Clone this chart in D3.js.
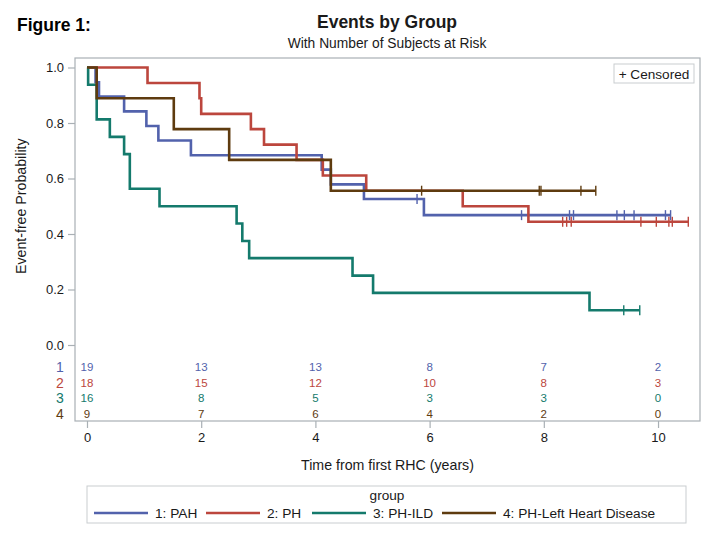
<!DOCTYPE html>
<html>
<head>
<meta charset="utf-8">
<script src="https://cdn.jsdelivr.net/npm/d3@7"></script>
<style>
  html, body { margin: 0; padding: 0; background: #fff; }
  svg text { font-family: "Liberation Sans", Arial, Helvetica, sans-serif; }
</style>
</head>
<body>
<svg id="chart" width="720" height="543"></svg>
<script>
// ---- data ----
const groupNames = ["1: PAH", "2: PH", "3: PH-ILD", "4: PH-Left Heart Disease"];
const groupIds = ["1", "2", "3", "4"];
const groupColors = ["#5262AC", "#BC463D", "#147A6C", "#5E3B0F"];

// step change times (years) and survival after each step
const pahTimes = [0, 0.15, 0.21, 0.65, 1.04, 1.25, 1.82, 4.11, 4.27, 4.85, 5.90, 10.22];
const pahSurv  = [1.0, 0.947, 0.895, 0.842, 0.789, 0.737, 0.684, 0.632, 0.579, 0.526, 0.468, 0.468];
const pahCens  = [5.78, 7.61, 8.45, 8.52, 9.28, 9.41, 9.58, 10.13, 10.22];

const phTimes = [0, 1.06, 1.97, 2.00, 2.87, 3.10, 3.67, 4.13, 4.89, 6.58, 7.73, 10.53];
const phSurv  = [1.0, 0.944, 0.889, 0.833, 0.778, 0.722, 0.667, 0.611, 0.556, 0.500, 0.444, 0.444];
const phCens  = [8.33, 8.40, 8.48, 9.70, 9.97, 10.19, 10.25, 10.53];

const ildTimes = [0, 0.02, 0.17, 0.40, 0.65, 0.75, 1.27, 2.62, 2.72, 2.84, 4.65, 5.01, 8.80, 9.68];
const ildSurv  = [1.0, 0.938, 0.813, 0.750, 0.688, 0.563, 0.500, 0.438, 0.375, 0.313, 0.250, 0.188, 0.125, 0.125];
const ildCens  = [9.40, 9.68];

const lhdTimes = [0, 0.17, 1.52, 2.49, 4.27, 8.91];
const lhdSurv  = [1.0, 0.889, 0.778, 0.667, 0.556, 0.556];
const lhdCens  = [5.86, 7.92, 7.95, 8.65, 8.91];

// number at risk
const atRiskTimes = [0, 2, 4, 6, 8, 10];
const pahRisk = [19, 13, 13, 8, 7, 2];
const phRisk  = [18, 15, 12, 10, 8, 3];
const ildRisk = [16, 8, 5, 3, 3, 0];
const lhdRisk = [9, 7, 6, 4, 2, 0];

const xTicks = [0, 2, 4, 6, 8, 10];
const yTicks = [0, 0.2, 0.4, 0.6, 0.8, 1.0];

// ---- assemble ----
const groups = [
  {times: pahTimes, surv: pahSurv, cens: pahCens, risk: pahRisk},
  {times: phTimes,  surv: phSurv,  cens: phCens,  risk: phRisk},
  {times: ildTimes, surv: ildSurv, cens: ildCens, risk: ildRisk},
  {times: lhdTimes, surv: lhdSurv, cens: lhdCens, risk: lhdRisk}
].map((g, i) => Object.assign(g, {name: groupNames[i], id: groupIds[i], color: groupColors[i]}));

const svg = d3.select("#chart");
const frame = {left: 75, right: 700, top: 58, bottom: 421};
const axisColor = "#A9B0B5";
const textColor = "#1a1a1a";
const FF = "Liberation Sans, Arial, sans-serif";

const x = d3.scaleLinear().domain([-0.21, 10.735]).range([frame.left, frame.right]);
const y = d3.scaleLinear().domain([0, 1]).range([345, 67.5]);

// titles
svg.append("text").attr("x", 17).attr("y", 31).attr("font-size", 17.5).attr("font-weight", "bold")
  .attr("fill", "#000").text("Figure 1:");
svg.append("text").attr("x", 387).attr("y", 28).attr("text-anchor", "middle").attr("font-size", 17.5)
  .attr("font-weight", "bold").attr("fill", textColor).text("Events by Group");
svg.append("text").attr("x", 387).attr("y", 47.5).attr("text-anchor", "middle").attr("font-size", 13.8)
  .attr("fill", textColor).text("With Number of Subjects at Risk");

// frame
svg.append("rect").attr("x", frame.left).attr("y", frame.top)
  .attr("width", frame.right - frame.left).attr("height", frame.bottom - frame.top)
  .attr("fill", "none").attr("stroke", axisColor).attr("stroke-width", 1.2);

// y axis
const yAxis = svg.append("g").attr("transform", `translate(${frame.left},0)`)
  .call(d3.axisLeft(y).tickValues(yTicks).tickFormat(d3.format(".1f")).tickSize(7).tickPadding(4));
yAxis.select(".domain").remove();
yAxis.selectAll(".tick line").attr("stroke", axisColor).attr("stroke-width", 1.2);
yAxis.selectAll(".tick text").attr("font-size", 13).attr("fill", textColor).attr("font-family", FF);

// x axis
const xAxis = svg.append("g").attr("transform", `translate(0,${frame.bottom})`)
  .call(d3.axisBottom(x).tickValues(xTicks).tickFormat(d3.format("d")).tickSize(7).tickPadding(5));
xAxis.select(".domain").remove();
xAxis.selectAll(".tick line").attr("stroke", axisColor).attr("stroke-width", 1.2);
xAxis.selectAll(".tick text").attr("font-size", 13).attr("fill", textColor).attr("font-family", FF);

// axis labels
svg.append("text").attr("x", (frame.left + frame.right) / 2).attr("y", 470).attr("text-anchor", "middle")
  .attr("font-size", 14.2).attr("fill", textColor).text("Time from first RHC (years)");
svg.append("text").attr("transform", `translate(26,${y(0.5)}) rotate(-90)`).attr("text-anchor", "middle")
  .attr("font-size", 14.2).attr("fill", textColor).text("Event-free Probability");

// curves
const line = d3.line().x(d => x(d[0])).y(d => y(d[1])).curve(d3.curveStepAfter);
function survAt(g, t) {
  let s = g.surv[0];
  for (let i = 0; i < g.times.length; i++) if (g.times[i] <= t) s = g.surv[i];
  return s;
}
const curves = svg.append("g");
groups.forEach(g => {
  const pts = g.times.map((t, i) => [t, g.surv[i]]);
  curves.append("path").datum(pts).attr("d", line).attr("fill", "none")
    .attr("stroke", g.color).attr("stroke-width", 2.6).attr("stroke-linejoin", "miter");
  curves.selectAll(null).data(g.cens).enter().append("line")
    .attr("x1", d => x(d)).attr("x2", d => x(d))
    .attr("y1", d => y(survAt(g, d)) - 5).attr("y2", d => y(survAt(g, d)) + 5)
    .attr("stroke", g.color).attr("stroke-width", 1.4);
});

// censored legend
svg.append("rect").attr("x", 614).attr("y", 64).attr("width", 80).attr("height", 19)
  .attr("fill", "#fff").attr("stroke", "#C9CDD0").attr("stroke-width", 1);
svg.append("text").attr("x", 654).attr("y", 78.5).attr("text-anchor", "middle").attr("font-size", 13.6)
  .attr("fill", textColor).text("+ Censored");

// at-risk table
const rowY = [367, 382.5, 398, 413.5];
groups.forEach((g, i) => {
  svg.append("text").attr("x", 60).attr("y", rowY[i] + 5).attr("text-anchor", "middle")
    .attr("font-size", 14).attr("fill", g.color).text(g.id);
  svg.selectAll(null).data(atRiskTimes).enter().append("text")
    .attr("x", d => x(d)).attr("y", rowY[i] + 4).attr("text-anchor", "middle")
    .attr("font-size", 11.5).attr("fill", g.color)
    .text((d, j) => g.risk[j]);
});

// bottom legend
svg.append("rect").attr("x", 87).attr("y", 486).attr("width", 599).attr("height", 37)
  .attr("fill", "#fff").attr("stroke", "#C9CDD0").attr("stroke-width", 1);
svg.append("text").attr("x", 387).attr("y", 499.5).attr("text-anchor", "middle").attr("font-size", 13.6)
  .attr("fill", textColor).text("group");
const legX = [94, 206, 312, 442];
groups.forEach((g, i) => {
  svg.append("line").attr("x1", legX[i]).attr("x2", legX[i] + 54).attr("y1", 513).attr("y2", 513)
    .attr("stroke", g.color).attr("stroke-width", 2.6);
  svg.append("text").attr("x", legX[i] + 61).attr("y", 518).attr("font-size", 13.7)
    .attr("fill", textColor).text(g.name);
});
</script>
</body>
</html>
